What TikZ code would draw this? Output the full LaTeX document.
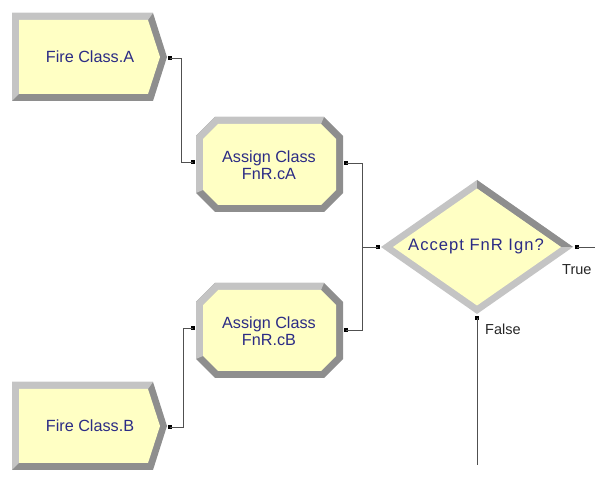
\documentclass[tikz,border=0pt]{standalone}
\usepackage{fontspec}
\setmainfont{Liberation Sans}
\newfontfamily\widesans[LetterSpace=6]{Liberation Sans}
\begin{document}
\definecolor{modfill}{HTML}{FFFFC4}
\definecolor{bevlight}{HTML}{C4C4C4}
\definecolor{bevdark}{HTML}{8E8E8E}
\definecolor{modtext}{HTML}{2B2B85}
\definecolor{wire}{HTML}{505050}
\begin{tikzpicture}[x=1pt,y=-1pt,
  modlabel/.style={text=modtext,font=\fontsize{16.2}{17.5}\selectfont,align=center,inner sep=0pt},
  branchlabel/.style={text=black!85,font=\fontsize{14.5}{16}\selectfont,inner sep=0pt,anchor=west},
  connector/.style={draw=wire,line width=0.8pt},
  port/.style={fill=black,minimum size=3.4pt,inner sep=0pt,draw=none,rectangle}]
\useasboundingbox (0,0) rectangle (595,486);

% Create modules (pentagon with bevel)
\foreach \dy in {0,369}{
  \begin{scope}[yshift=-\dy]
    \fill[bevdark] (12,13) -- (153,13) -- (167,57) -- (153,101) -- (12,101) -- cycle;
    \fill[bevlight] (12,13) -- (153,13) -- (148,20) -- (19,20) -- (19,94) -- (12,101) -- cycle;
    \fill[modfill] (19,20) -- (148,20) -- (160,57) -- (148,94) -- (19,94) -- cycle;
  \end{scope}
}
\node[modlabel] (fireA) at (90,57) {Fire Class.A};
\node[modlabel] (fireB) at (90,426) {Fire Class.B};

% Assign modules (octagon with bevel)
\foreach \dy in {0,166}{
  \begin{scope}[yshift=-\dy]
    \fill[bevdark] (215,117) -- (324,117) -- (343,136) -- (343,193) -- (324,212)
      -- (215,212) -- (196,193) -- (196,136) -- cycle;
    \fill[bevlight] (196,193) -- (196,136) -- (215,117) -- (324,117) -- (321,124)
      -- (218,124) -- (203,139) -- (203,190) -- cycle;
    \fill[modfill] (218,124) -- (321,124) -- (336,139) -- (336,190) -- (321,205)
      -- (218,205) -- (203,190) -- (203,139) -- cycle;
  \end{scope}
}
\node[modlabel] (assignA) at (269,165) {Assign Class\\FnR.cA};
\node[modlabel] (assignB) at (269,331) {Assign Class\\FnR.cB};

% Decide module (diamond with bevel, darker on the upper right edge)
\fill[bevlight] (381,247) -- (477,180) -- (573,247) -- (477,314) -- cycle;
\fill[bevdark] (477,180) -- (573,247) -- (561,247) -- (477,188.5) -- cycle;
\fill[modfill] (393,247) -- (477,188.5) -- (561,247) -- (477,305.5) -- cycle;
\node[modlabel,font=\widesans\fontsize{16.6}{17.5}\selectfont] (decide) at (476,246) {Accept FnR Ign?};

% Ports
\node[port] (fireAout) at (170,58) {};
\node[port] (fireBout) at (170,427) {};
\node[port] (assignAin) at (193,162) {};
\node[port] (assignAout) at (346,163) {};
\node[port] (assignBin) at (193,328) {};
\node[port] (assignBout) at (346,330) {};
\node[port] (decin) at (378,247) {};
\node[port] (dectrue) at (577,247) {};
\node[port] (decfalse) at (477,318) {};
\coordinate (trueend) at (595,247);
\coordinate (falseend) at (477,465);

% Connectors
\draw[connector] (fireAout.center) -- ++(11,0) |- (assignAin.center);
\draw[connector] (fireBout.center) -- ++(13,0) |- (assignBin.center);
\draw[connector] (assignAout.center) -- ++(16,0) |- (decin.center);
\draw[connector] (assignBout.center) -- ++(16,0) |- (decin.center);
\draw[connector] (dectrue.center) -- (trueend);
\draw[connector] (decfalse.center) -- (falseend);

% Branch labels
\node[branchlabel] (truelbl) at (562,270) {True};
\node[branchlabel] (falselbl) at (485,329) {False};
\end{tikzpicture}
\end{document}
